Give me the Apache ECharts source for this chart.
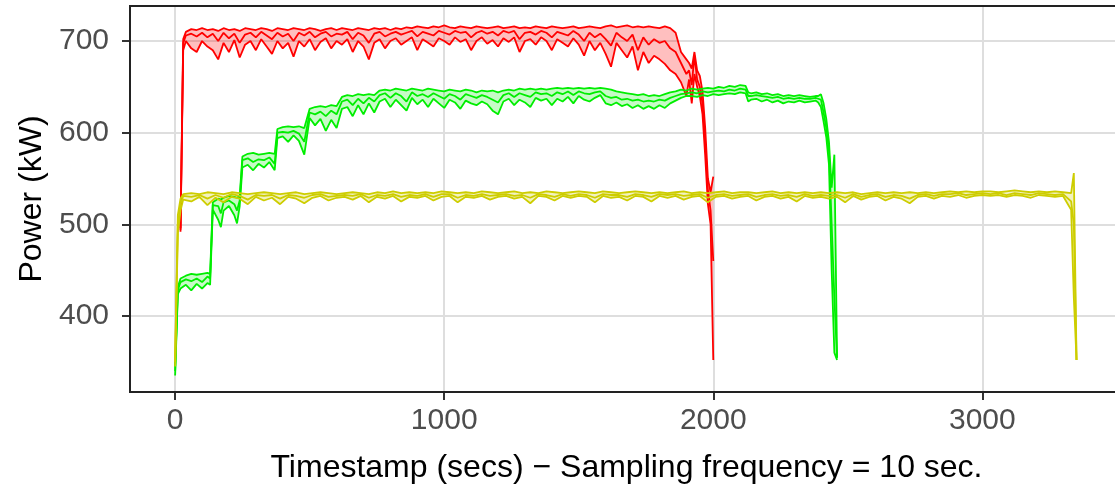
<!DOCTYPE html>
<html><head><meta charset="utf-8">
<script src="https://cdn.jsdelivr.net/npm/echarts@6/dist/echarts.min.js"></script>
<style>html,body{margin:0;padding:0;background:#fff}#c{width:1115px;height:486px}</style>
</head><body><div id="c"></div>
<script>
// ---- tick labels ----
const xTicks = [0, 1000, 2000, 3000];
const yTicks = [400, 500, 600, 700];
const xTitle = 'Timestamp (secs) \u2212 Sampling frequency = 10 sec.';
const yTitle = 'Power (kW)';

// ---- red run ----
const redT = [20,30,40,60,80,100,120,140,160,180,200,220,240,260,280,300,320,340,360,380,400,420,440,460,480,500,520,540,560,580,600,620,640,660,680,700,720,740,760,780,800,820,840,860,880,900,920,940,960,980,1000,1020,1040,1060,1080,1100,1120,1140,1160,1180,1200,1220,1240,1260,1280,1300,1320,1340,1360,1380,1400,1420,1440,1460,1480,1500,1520,1540,1560,1580,1600,1620,1640,1660,1680,1700,1720,1740,1760,1780,1800,1820,1840,1860,1880,1900,1910,1920,1930,1940,1950,1960,1970,1980,1990,2000];
const redHi = [496,702,
710,713,712,714,712,713,711,714,712,713,
711,714,713,712,714,713,711,714,713,712,
714,713,712,714,713,711,713,714,712,714,
713,712,714,713,712,714,713,714,712,714,
713,715,714,716,715,714,716,715,717,715,
714,716,715,714,716,715,714,715,716,714,
715,716,714,715,714,716,715,714,716,715,
714,715,716,714,715,716,715,714,716,717,
715,716,717,715,716,715,716,715,714,716,
714,709,688,680,
676,670,688,668,662,645,605,550,535,552];
const redMid = [494,698,
706,708,705,709,704,708,700,709,703,708,
698,707,709,704,710,706,702,709,705,708,
700,709,706,710,704,708,710,705,708,707,
710,702,709,706,698,708,710,705,708,710,
707,709,711,705,710,708,706,711,709,707,
711,709,710,704,709,711,708,710,706,711,
709,711,702,709,710,707,711,709,704,710,
708,706,711,707,700,709,704,708,702,695,
709,704,700,707,690,704,696,702,698,700,
692,688,676,664,
668,652,684,658,650,632,590,538,515,460];
const redLo = [492,690,
700,692,688,700,694,690,680,698,688,701,
682,696,700,690,702,694,686,700,692,698,
683,700,694,702,690,699,703,692,700,696,
702,688,700,694,680,698,702,692,700,703,
696,700,704,690,702,698,694,703,700,696,
704,699,702,690,700,704,697,701,694,703,
699,704,688,700,702,696,704,700,690,702,
698,694,703,696,684,700,690,698,686,672,
698,690,682,694,668,688,676,684,680,675,
668,664,655,640,
658,632,664,650,640,620,575,522,500,352];

// ---- green run ----
const greenT = [0,10,20,40,60,80,100,120,130,140,160,170,180,200,220,230,240,250,270,290,310,330,350,370,380,400,420,440,460,480,500,520,540,560,580,600,
620,640,660,680,700,720,740,760,780,800,820,840,860,880,900,920,940,960,980,1000,1020,1040,1060,1080,1100,1120,1140,1160,1180,1200,1220,1240,1260,1280,1300,1320,1340,1360,1380,1400,1420,1440,1460,1480,1500,1520,1540,1560,1580,1600,1620,1640,1660,1680,1700,1720,1740,1760,1780,1800,1820,1840,1860,1880,1900,1920,1940,1960,1980,2000,2020,2040,2060,2080,2100,2120,
2130,2140,2160,2180,2200,2220,2240,2260,2280,2300,2320,2340,2360,2380,2390,2400,2410,2420,2430,2440,2450,2460];
const greenHi = [345,432,441,444,446,445,446,447,446,524,528,527,529,531,530,529,531,574,577,578,576,577,578,577,604,606,607,606,607,605,626,628,629,628,630,629,
639,641,640,642,641,642,641,646,647,646,648,647,646,648,647,646,648,647,646,645,647,646,645,647,646,644,646,645,646,644,646,647,646,648,647,648,647,648,647,648,649,648,649,648,649,648,649,648,649,648,647,645,644,643,642,641,642,640,641,640,642,644,645,647,646,648,647,648,649,648,650,649,651,650,652,651,
644,643,644,642,643,641,642,640,641,640,641,640,639,640,640,642,632,615,590,540,576,355];
const greenMid = [340,428,437,440,438,441,437,443,441,521,520,512,524,526,522,515,526,570,572,568,571,570,573,566,600,601,600,602,599,590,622,620,623,618,624,620,
634,636,630,637,632,638,634,641,643,638,643,640,634,644,640,642,639,643,640,637,642,640,636,642,640,638,641,639,636,633,641,643,639,643,641,639,644,642,643,640,644,642,645,641,645,643,642,644,645,640,638,639,636,637,635,636,634,635,634,636,635,638,640,642,643,644,643,645,644,645,646,645,647,646,648,647,
640,640,641,640,639,638,639,637,638,637,638,637,637,638,637,636,622,605,580,500,420,354];
const greenLo = [335,424,430,434,428,435,430,436,434,516,505,497,515,520,510,501,520,562,565,559,566,562,568,559,594,596,590,597,591,576,616,608,615,602,614,605,
626,628,618,630,620,632,622,634,637,628,636,630,624,638,631,636,628,637,632,627,636,633,626,635,632,630,634,631,624,620,634,637,630,636,633,628,638,635,637,630,637,634,639,632,640,636,634,638,641,632,630,633,629,631,627,630,626,629,626,630,627,632,635,638,640,640,639,641,640,642,641,642,643,642,644,643,
634,636,637,634,636,633,635,632,634,633,635,633,634,635,633,628,612,595,565,450,360,352];

// ---- yellow run ----
const yellowT = [0,10,20,30,60,90,120,150,180,210,240,270,300,330,360,390,420,450,480,510,540,570,600,630,660,690,720,750,780,810,840,870,900,930,960,990,1020,1050,1080,1110,1140,1170,1200,1230,1260,1290,1320,1350,1380,1410,1440,1470,1500,1530,1560,1590,1620,1650,1680,1710,1740,1770,1800,1830,1860,1890,1920,1950,1980,2010,2040,2070,2100,2130,2160,2190,2220,2250,2280,2310,2340,2370,2400,2430,2460,2490,2520,2550,2580,2610,2640,2670,2700,2730,2760,2790,2820,2850,2880,2910,2940,2970,3000,3030,3060,3090,3120,3150,3180,3210,3240,3270,3300,3330,3340,3350];
const yellowHi = [355,510,528,
533,534,533,535,534,533,535,534,533,534,
535,534,533,534,535,533,534,535,534,533,
534,535,534,533,535,534,536,534,535,534,
535,534,536,535,534,535,534,536,535,534,
535,536,534,535,534,536,535,534,535,536,
535,534,536,535,534,535,536,535,534,535,
534,535,536,534,535,534,535,536,534,535,
535,534,535,536,534,535,534,535,534,535,
534,535,534,535,533,534,535,534,535,534,
535,534,535,534,535,536,535,536,535,536,
536,535,536,537,536,535,536,535,536,535,
534,556,352];
const yellowMid = [350,500,522,
531,530,532,528,532,529,533,531,527,532,
531,532,528,532,531,529,532,533,530,531,
532,531,533,529,532,531,533,530,532,531,
533,530,533,533,529,532,531,533,531,532,
533,531,532,529,533,532,530,533,531,533,
532,529,533,532,532,530,533,532,530,533,
532,533,531,532,533,529,532,533,531,532,
533,530,532,533,531,532,530,533,531,532,
531,532,529,533,530,532,533,530,532,531,
528,532,533,531,533,533,534,532,533,534,
533,534,532,534,533,532,534,533,532,533,
525,500,352];
const yellowLo = [345,490,515,
527,525,530,521,529,524,530,528,522,530,
526,529,522,530,528,523,529,531,526,529,
530,527,531,524,530,528,531,525,530,529,
531,526,530,531,524,530,529,531,527,530,
531,528,530,523,531,530,526,531,529,531,
530,524,531,529,530,526,531,530,525,531,
529,531,527,530,531,524,530,531,528,530,
531,526,530,531,528,530,525,531,529,530,
528,530,524,531,527,530,531,526,530,528,
523,530,531,528,531,530,532,529,531,532,
531,532,530,532,531,529,532,531,530,531,
516,420,352];

const FONT = '"Liberation Sans", Arial, Helvetica, sans-serif';

function pairs(t, v) { return t.map((x, i) => [x, v[i]]); }
function ribbon(color, fill, t, hi, mid, lo) {
  const line = (data) => ({
    type: 'line', data, symbol: 'none', silent: true, animation: false,
    lineStyle: { color, width: 1.8 }, z: 3
  });
  // ribbon polygon between lo and hi, through the axis scales
  const rows = t.map((x, i) => [x, hi[i], lo[i]]);
  const band = {
    type: 'custom', silent: true, animation: false, z: 2,
    data: rows,
    encode: { x: 0, y: [1, 2] },
    renderItem: function (params, api) {
      if (params.dataIndex !== 0) return null;
      const top = rows.map(r => api.coord([r[0], r[1]]));
      const bot = rows.slice().reverse().map(r => api.coord([r[0], r[2]]));
      return {
        type: 'polygon',
        shape: { points: top.concat(bot) },
        style: { fill: fill, stroke: null },
        clipPath: { type: 'rect', shape: { x: params.coordSys.x, y: params.coordSys.y, width: params.coordSys.width, height: params.coordSys.height } }
      };
    }
  };
  return [band, line(pairs(t, lo)), line(pairs(t, hi)), line(pairs(t, mid))];
}

const chart = echarts.init(document.getElementById('c'), null, { renderer: 'canvas' });
chart.setOption({
  backgroundColor: '#ffffff',
  animation: false,
  grid: { left: 130, top: 6, width: 993, height: 386, containLabel: false, outerBoundsMode: 'none',
          show: true, borderColor: '#222', borderWidth: 2, backgroundColor: 'transparent', z: 10 },
  xAxis: {
    type: 'value', min: -167.75, max: 3522.75,
    name: xTitle, nameLocation: 'middle', nameGap: 60,
    nameTextStyle: { fontFamily: FONT, fontSize: 32, color: '#000' },
    axisLine: { show: false, onZero: false },
    axisTick: { show: true, length: 8, customValues: xTicks, lineStyle: { color: '#333', width: 2 } },
    axisLabel: { customValues: xTicks, margin: 14, fontFamily: FONT, fontSize: 30, color: '#4d4d4d', formatter: v => String(v) },
    splitLine: { show: true, lineStyle: { color: '#dedede', width: 2 } }
  },
  yAxis: {
    type: 'value', min: 317.1, max: 738.2,
    name: yTitle, nameLocation: 'middle', nameGap: 82,
    nameTextStyle: { fontFamily: FONT, fontSize: 32, color: '#000' },
    axisLine: { show: false, onZero: false },
    axisTick: { show: true, length: 8, customValues: yTicks, lineStyle: { color: '#333', width: 2 } },
    axisLabel: { customValues: yTicks, margin: 21, fontFamily: FONT, fontSize: 30, color: '#4d4d4d', formatter: v => String(v) },
    splitLine: { show: true, lineStyle: { color: '#dedede', width: 2 } }
  },
  series: [].concat(
    ribbon('#ff0000', 'rgba(255,0,0,0.25)', redT, redHi, redMid, redLo),
    ribbon('#00ee00', 'rgba(0,238,0,0.22)', greenT, greenHi, greenMid, greenLo),
    ribbon('#cdcd00', 'rgba(205,205,0,0.25)', yellowT, yellowHi, yellowMid, yellowLo)
  )
});
</script>
</body></html>
